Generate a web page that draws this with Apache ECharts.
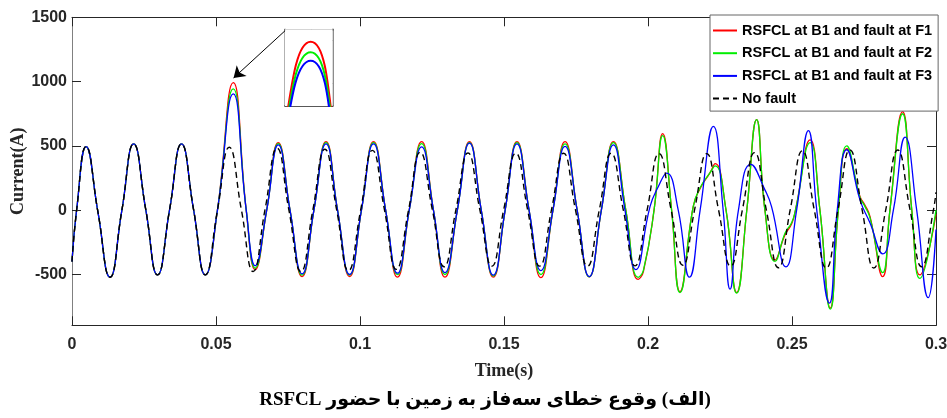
<!DOCTYPE html>
<html>
<head>
<meta charset="utf-8">
<script src="https://cdn.jsdelivr.net/npm/echarts@6/dist/echarts.min.js"></script>
<style>
  html, body { margin: 0; padding: 0; background: #ffffff; }
  #chart { width: 947px; height: 418px; }
</style>
</head>
<body>
<div id="chart"></div>
<script>
// Axis ticks
const timeTicks = [0, 0.05, 0.1, 0.15, 0.2, 0.25, 0.3];
const currentTicks = [-500, 0, 500, 1000, 1500];
const zoomCurrentTicks = [800, 1000];
const zoomTimeTicks = [0.0561];

const seriesNames = [
  'RSFCL at B1 and fault at F1',
  'RSFCL at B1 and fault at F2',
  'RSFCL at B1 and fault at F3',
  'No fault'
];

// Samples before the fault (identical in every case), time in s, current in A
const preFaultTime = [0, 0.0016, 0.0049, 0.0090, 0.0132, 0.0173, 0.0214, 0.0256, 0.0297, 0.0339, 0.0380, 0.0422, 0.0463, 0.0505];
const preFaultCurrent = [-400, 0, 495, -13, -521, -3, 515, 6, -503, 6, 515, 6, -503, 0];

// Healthy network (no fault)
const noFaultTime = [0.0546, 0.0588, 0.0629, 0.0670, 0.0712, 0.0753, 0.0795, 0.0836, 0.0878, 0.0919, 0.0960, 0.1002, 0.1043, 0.1085, 0.1126, 0.1168, 0.1209, 0.1251, 0.1292, 0.1333, 0.1375, 0.1416, 0.1458, 0.1499, 0.1541, 0.1582, 0.1624, 0.1665, 0.1707, 0.1748, 0.1790, 0.1831, 0.1872, 0.1914, 0.1955, 0.1997, 0.2038, 0.2080, 0.2121, 0.2162, 0.2204, 0.2245, 0.2287, 0.2328, 0.2370, 0.2411, 0.2453, 0.2494, 0.2536, 0.2577, 0.2619, 0.2660, 0.2701, 0.2743, 0.2784, 0.2826, 0.2867, 0.2909, 0.2950, 0.2991, 0.3];
const noFaultCurrent = [490, 5, -477, 2, 482, 3, -477, -2, 474, 2, -470, -2, 465, 2, -460, -5, 450, 5, -440, 2, 445, 5, -435, 4, 443, 4, -435, 4, 443, 4, -435, 4, 443, 5, -433, 3, 440, 6, -428, 6, 440, 2, -435, 6, 448, 0, -448, 7, 462, 6, -450, 9, 468, 9, -450, 9, 468, 14, -440, 0, 140];

// Fault at F1 and F2 share the same sampling instants
const faultF12Time = [0.0560, 0.0605, 0.0636, 0.0676, 0.0716, 0.0757, 0.0799, 0.0840, 0.0882, 0.0922, 0.0964, 0.1005, 0.1047, 0.1089, 0.1130, 0.1171, 0.1214, 0.1255, 0.1295, 0.1338, 0.1380, 0.1421, 0.1463, 0.1504, 0.1545, 0.1587, 0.1628, 0.1670, 0.1712, 0.1754, 0.1796, 0.1838, 0.1880, 0.1923, 0.1966, 0.1984, 0.2021, 0.2051, 0.2082, 0.2111, 0.2157, 0.2181, 0.2215, 0.2233, 0.2271, 0.2308, 0.2343, 0.2377, 0.2406, 0.2441, 0.2476, 0.2499, 0.2512, 0.2563, 0.2597, 0.2633, 0.2661, 0.2690, 0.2736, 0.2753, 0.2771, 0.2815, 0.2840, 0.2884, 0.2916, 0.2944, 0.3];
const faultF1Current = [992, 0, -462, 0, 526, 0, -516, 0, 533, 0, -516, 0, 533, 0, -521, 0, 533, 0, -521, 0, 533, 0, -521, 0, 533, 0, -525, 0, 533, 0, -518, 0, 533, 0, -538, -477, 0, 596, 0, -633, 28, 170, 290, 362, 0, -640, 0, 704, 0, -388, -190, -105, 0, 547, 0, -762, 0, 478, 106, 41, -50, -516, 0, 767, 0, -503, -30];
const faultF2Current = [943, 0, -450, 0, 518, 0, -505, 0, 525, 0, -505, 0, 525, 0, -500, 0, 518, 0, -500, 0, 525, 0, -512, 0, 525, 0, -500, 0, 516, 0, -518, 0, 526, 0, -522, -468, 0, 580, 0, -640, 28, 175, 290, 344, 0, -645, 0, 705, 0, -398, -178, -95, 0, 526, 0, -770, 0, 500, 100, 30, -60, -485, 0, 750, 0, -530, 0];

// Fault at F3
const faultF3Time = [0.0560, 0.0605, 0.0636, 0.0676, 0.0716, 0.0757, 0.0799, 0.0840, 0.0882, 0.0922, 0.0964, 0.1005, 0.1047, 0.1089, 0.1130, 0.1171, 0.1214, 0.1255, 0.1295, 0.1338, 0.1380, 0.1421, 0.1463, 0.1504, 0.1545, 0.1587, 0.1628, 0.1670, 0.1712, 0.1754, 0.1796, 0.1838, 0.1880, 0.1920, 0.1958, 0.2007, 0.2036, 0.2065, 0.2105, 0.2144, 0.2181, 0.2227, 0.2261, 0.2285, 0.2314, 0.2357, 0.2406, 0.2429, 0.2479, 0.2516, 0.2557, 0.2586, 0.2630, 0.2657, 0.2690, 0.2736, 0.2771, 0.2815, 0.2852, 0.2893, 0.2933, 0.2973, 0.3];
const faultF3Current = [904, 0, -432, 0, 508, 0, -495, 0, 516, 0, -500, 0, 516, 0, -490, 0, 492, 0, -485, 0, 521, 0, -505, 0, 516, 0, -470, 0, 496, 0, -516, 0, 508, 0, -462, 28, 184, 288, 0, -521, 0, 652, 0, -614, 0, 357, 158, 28, -440, 0, 619, 0, -723, 0, 470, 80, -100, -340, 0, 568, 0, -680, -150];

// Window shown in the magnified box around the first fault peak
const zoomTimeRange = [0.0532, 0.0584];
const zoomCurrentRange = [695, 1049];
// Arrow from the magnified box to the peak it enlarges
const arrowFrom = [0.0740, 1396];
const arrowTo = [0.0561, 1028];

const caption = '\u202B(الف) وقوع خطای سه\u200Cفاز به زمین با حضور RSFCL\u202C';

function pairs(t, v) { return t.map((x, i) => [x, v[i]]); }

const dataF1 = pairs(preFaultTime.concat(faultF12Time), preFaultCurrent.concat(faultF1Current));
const dataF2 = pairs(preFaultTime.concat(faultF12Time), preFaultCurrent.concat(faultF2Current));
const dataF3 = pairs(preFaultTime.concat(faultF3Time), preFaultCurrent.concat(faultF3Current));
const dataNoFault = pairs(preFaultTime.concat(noFaultTime), preFaultCurrent.concat(noFaultCurrent));

const colors = ['#ff0000', '#00ee00', '#0000ff', '#000000'];
const axisColor = '#262626';
const labelFont = { fontFamily: "'Liberation Sans', Arial, sans-serif", fontWeight: 'bold', fontSize: 16, color: axisColor };
const nameFont = { fontFamily: "'Liberation Serif', 'Times New Roman', serif", fontWeight: 'bold', fontSize: 18, color: axisColor };

function frameAxis(extra) {
  return Object.assign({
    type: 'value',
    splitLine: { show: false },
    axisLabel: { show: false },
    axisLine: { show: true, onZero: false, lineStyle: { color: axisColor, width: 1 } },
    axisTick: { show: true, inside: true, length: 9, lineStyle: { color: axisColor, width: 1 } }
  }, extra);
}

function lineSeries(name, data, color, xi, yi, width, z, dashed) {
  return {
    name: name,
    type: 'line',
    xAxisIndex: xi,
    yAxisIndex: yi,
    data: data,
    symbol: 'none',
    smooth: 0.5,
    clip: true,
    z: z,
    color: color,
    lineStyle: { color: color, width: width, type: dashed ? [6, 4] : 'solid' },
    emphasis: { disabled: true },
    animation: false
  };
}

const chart = echarts.init(document.getElementById('chart'), null, { renderer: 'canvas' });

const option = {
  animation: false,
  backgroundColor: '#ffffff',
  grid: [
    { left: 72, right: 11, top: 17.3, bottom: 92.7, containLabel: false, outerBoundsMode: 'none' },
    { left: 285, top: 29.3, width: 47.7, height: 76.7, show: true, backgroundColor: '#ffffff', borderWidth: 0, z: 3, containLabel: false, outerBoundsMode: 'none' }
  ],
  xAxis: [
    frameAxis({
      gridIndex: 0, position: 'bottom', min: 0, max: 0.3, interval: 0.05,
      axisLabel: Object.assign({ show: true, margin: 11, formatter: v => String(+v.toFixed(2)) }, labelFont),
      name: 'Time(s)', nameLocation: 'middle', nameGap: 37, nameMoveOverlap: false, nameTextStyle: nameFont
    }),
    frameAxis({ gridIndex: 0, position: 'top', min: 0, max: 0.3, interval: 0.05 }),
    frameAxis({
      gridIndex: 1, position: 'bottom', min: zoomTimeRange[0], max: zoomTimeRange[1],
      axisLine: { show: true, onZero: false, lineStyle: { color: '#222', width: 1.5 } },
      axisTick: { show: true, inside: true, length: 3, customValues: zoomTimeTicks, lineStyle: { color: '#222' } }
    }),
    frameAxis({
      gridIndex: 1, position: 'top', min: zoomTimeRange[0], max: zoomTimeRange[1],
      axisLine: { show: true, onZero: false, lineStyle: { color: '#222', width: 1.5 } },
      axisTick: { show: true, inside: true, length: 3, customValues: zoomTimeTicks, lineStyle: { color: '#222' } }
    })
  ],
  yAxis: [
    frameAxis({
      gridIndex: 0, position: 'left', min: -895, max: 1500,
      axisLine: { show: true, onZero: false, lineStyle: { color: '#808080', width: 1 } },
      axisTick: { show: true, inside: true, length: 9, customValues: currentTicks, lineStyle: { color: axisColor } },
      axisLabel: Object.assign({ show: true, margin: 5, customValues: currentTicks, formatter: v => String(v) }, labelFont),
      name: 'Current(A)', nameLocation: 'middle', nameGap: 45, nameMoveOverlap: false, nameRotate: 90, nameTextStyle: nameFont
    }),
    frameAxis({
      gridIndex: 0, position: 'right', min: -895, max: 1500,
      axisTick: { show: true, inside: true, length: 9, customValues: currentTicks, lineStyle: { color: axisColor } }
    }),
    frameAxis({
      gridIndex: 1, position: 'left', min: zoomCurrentRange[0], max: zoomCurrentRange[1],
      axisLine: { show: true, onZero: false, lineStyle: { color: '#999', width: 1.5 } },
      axisTick: { show: true, inside: true, length: 3, customValues: zoomCurrentTicks, lineStyle: { color: '#222' } }
    }),
    frameAxis({
      gridIndex: 1, position: 'right', min: zoomCurrentRange[0], max: zoomCurrentRange[1],
      axisLine: { show: true, onZero: false, lineStyle: { color: '#666', width: 1.5 } },
      axisTick: { show: true, inside: true, length: 3, customValues: zoomCurrentTicks, lineStyle: { color: '#222' } }
    })
  ],
  legend: {
    data: seriesNames,
    orient: 'vertical',
    left: 710,
    top: 15,
    itemWidth: 24,
    itemHeight: 14,
    itemGap: 7.7,
    padding: [8, 6, 5, 2],
    backgroundColor: '#ffffff',
    borderColor: '#666666',
    borderWidth: 1,
    selectedMode: false,
    z: 20,
    itemStyle: { opacity: 0 },
    textStyle: { fontFamily: "'Liberation Sans', Arial, sans-serif", fontWeight: 'bold', fontSize: 14.5, color: '#000' }
  },
  series: [
    lineSeries(seriesNames[0], dataF1, colors[0], 0, 0, 1.3, 2),
    lineSeries(seriesNames[1], dataF2, colors[1], 0, 0, 1.3, 3),
    lineSeries(seriesNames[2], dataF3, colors[2], 0, 0, 1.3, 4),
    Object.assign(lineSeries(seriesNames[3], dataNoFault, colors[3], 0, 0, 1.4, 5, true), {
      markLine: {
        silent: true,
        symbol: ['none', 'arrow'],
        symbolSize: 11,
        label: { show: false },
        lineStyle: { color: '#000', width: 1, type: 'solid' },
        emphasis: { disabled: true },
        data: [[{ coord: arrowFrom }, { coord: arrowTo }]]
      }
    }),
    lineSeries(seriesNames[0], dataF1, colors[0], 2, 2, 2, 6),
    lineSeries(seriesNames[1], dataF2, colors[1], 2, 2, 2, 7),
    lineSeries(seriesNames[2], dataF3, colors[2], 2, 2, 2, 8)
  ],
  graphic: [
    {
      type: 'text',
      x: 485,
      y: 400,
      style: {
        text: caption,
        font: "bold 19px 'Liberation Serif', 'DejaVu Sans', serif",
        fill: '#000',
        align: 'center',
        verticalAlign: 'middle'
      }
    }
  ]
};

chart.setOption(option);
</script>
</body>
</html>
